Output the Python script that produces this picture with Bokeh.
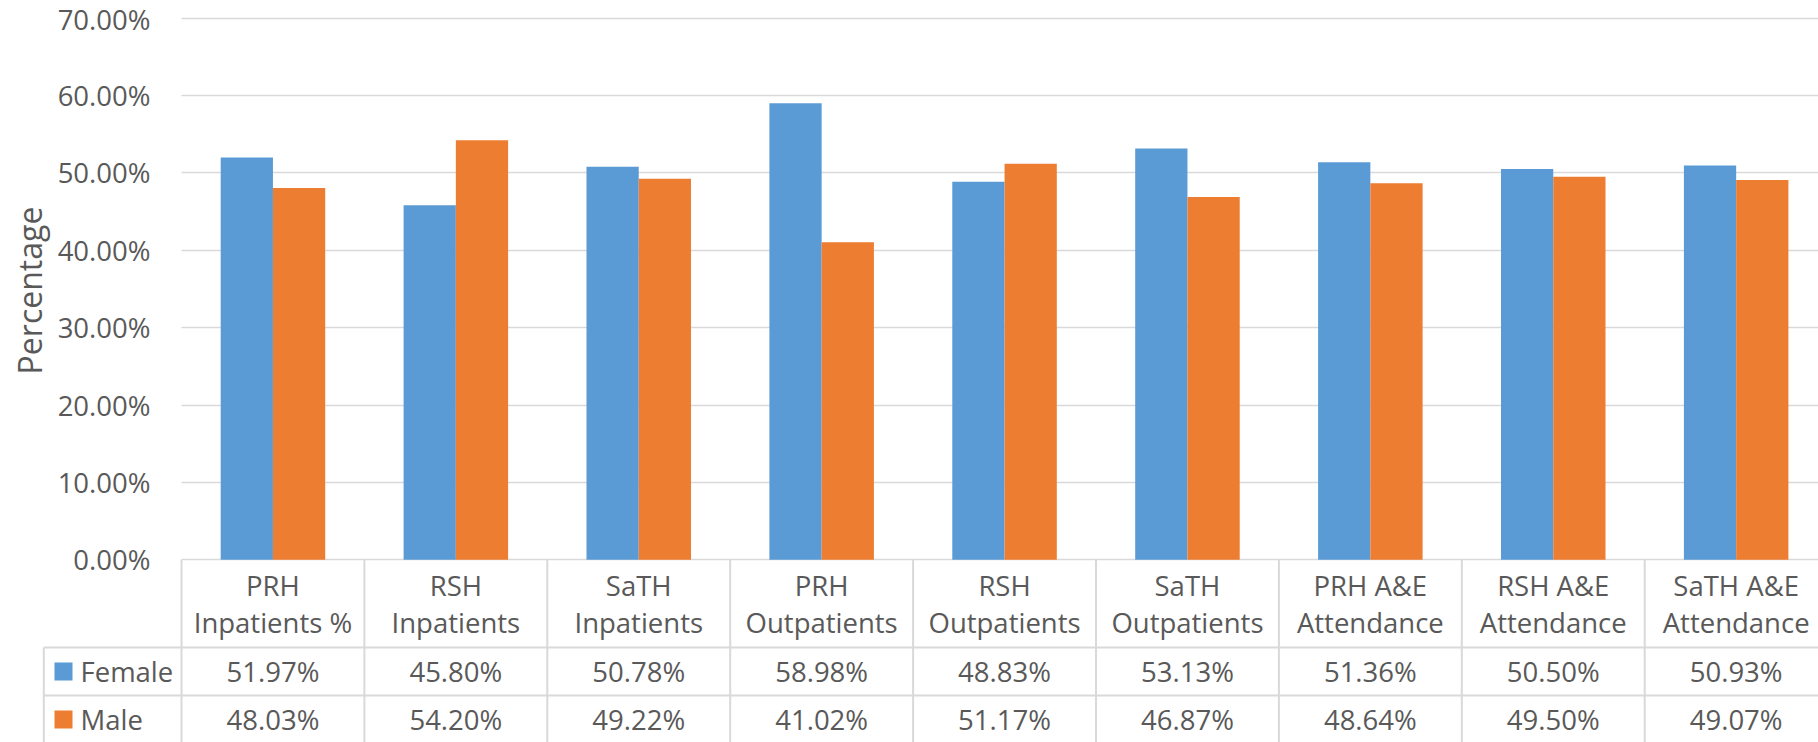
import numpy as np
from bokeh.plotting import figure
from bokeh.models import Range1d, FixedTicker, NumeralTickFormatter, ColumnDataSource
from bokeh.embed import file_html
from bokeh.resources import INLINE
from bokeh.core.properties import value

# ---------------- data ----------------
categories = [
    "PRH\nInpatients %", "RSH\nInpatients", "SaTH\nInpatients",
    "PRH\nOutpatients", "RSH\nOutpatients", "SaTH\nOutpatients",
    "PRH A&E\nAttendance", "RSH A&E\nAttendance", "SaTH A&E\nAttendance",
]
series_names = ["Female", "Male"]
female = [51.97, 45.80, 50.78, 58.98, 48.83, 53.13, 51.36, 50.50, 50.93]
male = [48.03, 54.20, 49.22, 41.02, 51.17, 46.87, 48.64, 49.50, 49.07]
y_ticks = [0.0, 0.1, 0.2, 0.3, 0.4, 0.5, 0.6, 0.7]
y_title = "Percentage"
colors = ["#5B9BD5", "#ED7D31"]

# ---------------- style / layout (pixel geometry of the reference) ----------------
FONT = value("Open Sans")
FS = "27.5px"
TXT = "#595959"
GRID = "#d9d9d9"
W, H = 1818, 742
CAT = 182.9              # px per category
PLOT_LEFT = 181.0        # plot-area left edge, px
ZERO = 559.3             # y px of 0 %
TOP = 17.5               # y px of 70 %
PXU = (ZERO - TOP) / 0.7


def fx(px):   # px -> x data
    return (px - PLOT_LEFT) / CAT


def fy(px):   # px -> y data
    return (ZERO - px) / PXU


x_start, x_end = fx(0), fx(W)
y_start, y_end = fy(H), fy(0)

n = len(categories)
xc = np.arange(n) + 0.5
bw = 1 / 3.5
bounds = np.arange(n + 1)

p = figure(width=W, height=H, x_range=Range1d(x_start, x_end), y_range=Range1d(y_start, y_end),
           output_backend="svg", toolbar_location=None, x_axis_location=None,
           min_border_left=0, min_border_right=0, min_border_top=0, min_border_bottom=0)
p.outline_line_color = None
p.background_fill_color = "white"
p.border_fill_color = "white"
p.xgrid.visible = False
p.ygrid.ticker = FixedTicker(ticks=y_ticks)
p.ygrid.grid_line_color = GRID
p.ygrid.grid_line_width = 1.6
p.ygrid.cross_bounds = (0, x_end)

ax = p.yaxis[0]
ax.fixed_location = 0
ax.ticker = FixedTicker(ticks=y_ticks, minor_ticks=[])
ax.formatter = NumeralTickFormatter(format="0.00%")
ax.axis_line_color = None
ax.major_tick_line_color = None
ax.minor_tick_line_color = None
ax.major_tick_out = 0
ax.major_label_standoff = 31
ax.major_label_text_font = "Open Sans"
ax.major_label_text_font_size = FS
ax.major_label_text_color = TXT

src = ColumnDataSource(dict(xf=xc - bw / 2, xm=xc + bw / 2,
                            f=np.array(female) / 100, m=np.array(male) / 100))
p.vbar(x="xf", top="f", bottom=0, width=bw, source=src, fill_color=colors[0], line_color=None)
p.vbar(x="xm", top="m", bottom=0, width=bw, source=src, fill_color=colors[1], line_color=None)

# axis title
p.text(x=[fx(29)], y=[fy(290)], text=[y_title], angle=np.pi / 2,
       text_align="center", text_baseline="middle",
       text_font=FONT, text_font_size="32px", text_color=TXT)

# ---------------- data table ----------------
row_top = fy(647)
row_mid = fy(695)
row_bot = fy(743)
leg_left = fx(43.3)

# header row
p.segment(x0=bounds, y0=0, x1=bounds, y1=row_bot, line_color=GRID, line_width=2)
p.text(x=xc, y=[fy(603.5)] * n, text=categories, text_align="center", text_baseline="middle",
       text_font=FONT, text_font_size=FS, text_color=TXT, text_line_height=0.98)

# data rows
p.segment(x0=[leg_left] * 3, y0=[row_top, row_mid, row_bot], x1=[x_end] * 3,
          y1=[row_top, row_mid, row_bot], line_color=GRID, line_width=2)
p.segment(x0=[leg_left], y0=[row_top], x1=[leg_left], y1=[row_bot], line_color=GRID, line_width=2)
rows_y = [(row_top + row_mid) / 2, (row_mid + row_bot) / 2]
p.scatter(x=[fx(63)] * 2, y=rows_y, marker="square", size=18,
          fill_color=colors, line_color=None)
p.text(x=[fx(80)] * 2, y=rows_y, text=series_names, text_align="left",
       text_baseline="middle", text_font=FONT, text_font_size=FS, text_color=TXT)
for vals, yy in zip([female, male], rows_y):
    p.text(x=xc, y=[yy] * n, text=[f"{v:.2f}%" for v in vals], text_align="center",
           text_baseline="middle", text_font=FONT, text_font_size=FS, text_color=TXT)

open("out.html", "w").write(file_html(p, INLINE))
